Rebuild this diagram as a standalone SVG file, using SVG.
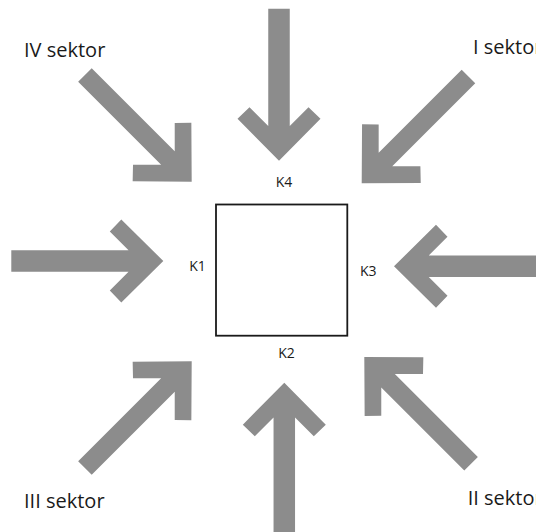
<svg xmlns="http://www.w3.org/2000/svg" xmlns:xlink="http://www.w3.org/1999/xlink" width="536" height="532" viewBox="0 0 536 532">
  <style>
    .arrow { fill: #8c8c8c; }
    .lbl { font-family: "Open Sans", "Liberation Sans", sans-serif; fill: #1a1a1a; }
    .k { font-size: 14px; }
    .sek { font-size: 20px; }
  </style>
  <defs>
    <path id="arrowStraight" d="M0,0 L-42,41.5 L-53.5,29.5 L-34.75,10.75 L-152,10.75 L-152,-10.75 L-34.75,-10.75 L-53.5,-29.5 L-42,-41.5 Z"/>
    <path id="arrowDiag" d="M0,0 L-42,41.5 L-53.5,29.5 L-33.6,9.6 L-151,9.6 L-151,-9.6 L-33.6,-9.6 L-53.5,-29.5 L-42,-41.5 Z"/>
  </defs>
  <rect width="536" height="532" fill="#ffffff"/>
  <g id="connectors">
    <use class="arrow" xlink:href="#arrowStraight" transform="translate(279,160.7) rotate(90)"/>
    <use class="arrow" xlink:href="#arrowStraight" transform="translate(163.3,261) rotate(0)"/>
    <use class="arrow" xlink:href="#arrowStraight" transform="translate(394,266.3) rotate(180)"/>
    <use class="arrow" xlink:href="#arrowStraight" transform="translate(284.3,382.7) rotate(-90)"/>
    <use class="arrow" xlink:href="#arrowDiag" transform="translate(191.7,181.7) rotate(45)"/>
    <use class="arrow" xlink:href="#arrowDiag" transform="translate(361.7,183.3) rotate(135)"/>
    <use class="arrow" xlink:href="#arrowDiag" transform="translate(191.7,361.3) rotate(-45)"/>
    <use class="arrow" xlink:href="#arrowDiag" transform="translate(364.3,357) rotate(-135)"/>
  </g>
  <g id="node-square">
    <rect x="216" y="204.5" width="131.3" height="131.2" fill="none" stroke="#1a1a1a" stroke-width="1.8"/>
  </g>
  <g id="labels">
    <text id="k1" class="lbl k" x="189.3" y="271">K1</text>
    <text id="k2" class="lbl k" x="278.3" y="357.7">K2</text>
    <text id="k3" class="lbl k" x="360" y="276">K3</text>
    <text id="k4" class="lbl k" x="275.7" y="186.7">K4</text>
    <text id="s4" class="lbl sek" x="24" y="56.7">IV sektor</text>
    <text id="s1" class="lbl sek" x="473" y="54">I sektor</text>
    <text id="s3" class="lbl sek" x="24" y="508">III sektor</text>
    <text id="s2" class="lbl sek" x="467.7" y="504.7">II sektor</text>
  </g>
</svg>
